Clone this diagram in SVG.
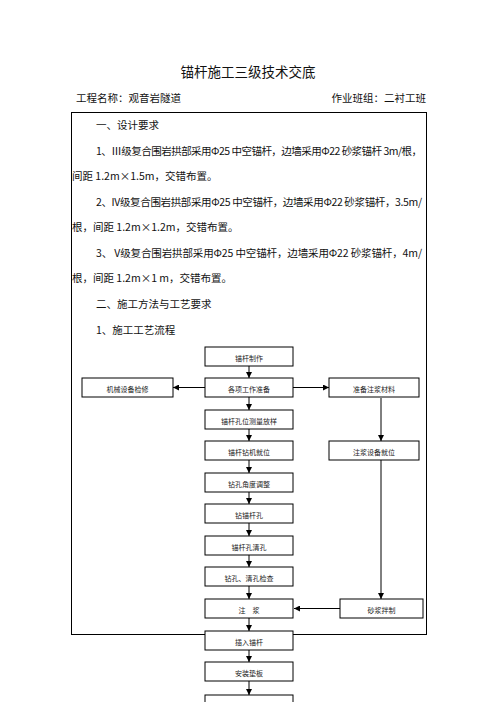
<svg xmlns="http://www.w3.org/2000/svg" width="496" height="702" viewBox="0 0 496 702">
<style>
text{font-family:"Noto Sans CJK SC","Noto Sans",sans-serif;fill:#111}
.t{font-size:13.5px}
.h{font-size:10.5px}
.b{font-size:10.5px}
.box{fill:#fff;stroke:#000;stroke-width:1}
.n{font-size:7px;text-anchor:middle;fill:#222}
.c{stroke:#000;stroke-width:1;fill:none}
</style>
<defs>
<marker id="ah" viewBox="0 0 6 6" refX="6" refY="3" markerWidth="6" markerHeight="6" orient="auto" markerUnits="userSpaceOnUse">
<path d="M0,0 L6,3 L0,6 z" fill="#000"/>
</marker>
</defs>
<rect width="496" height="702" fill="#fff"/>
<text class="t" x="248" y="77" text-anchor="middle">锚杆施工三级技术交底</text>
<text class="h" x="76" y="102">工程名称：观音岩隧道</text>
<text class="h" x="426" y="102" text-anchor="end">作业班组：二衬工班</text>
<rect x="71.5" y="112.5" width="355" height="522" fill="none" stroke="#000" stroke-width="1"/>
<g id="body">
<text class="b" x="96" y="129">一、设计要求</text>
<text class="b" x="96" y="155" textLength="326" lengthAdjust="spacing">1、Ⅲ级复合围岩拱部采用Φ25 中空锚杆，边墙采用Φ22 砂浆锚杆 3m/根，</text>
<text class="b" x="72" y="180">间距 1.2m×1.5m，交错布置。</text>
<text class="b" x="96" y="206" textLength="326" lengthAdjust="spacing">2、IV级复合围岩拱部采用Φ25 中空锚杆，边墙采用Φ22 砂浆锚杆，3.5m/</text>
<text class="b" x="72" y="231">根，间距 1.2m×1.2m，交错布置。</text>
<text class="b" x="96" y="257" textLength="326" lengthAdjust="spacing">3、 V级复合围岩拱部采用Φ25  中空锚杆，边墙采用Φ22  砂浆锚杆，4m/</text>
<text class="b" x="72" y="282">根，间距 1.2m×1 m，交错布置。</text>
<text class="b" x="96" y="308">二、施工方法与工艺要求</text>
<text class="b" x="96" y="334">1、施工工艺流程</text>
</g>
<g id="connectors">
<line class="c" x1="249" y1="366" x2="249" y2="378" marker-end="url(#ah)"/>
<line class="c" x1="249" y1="397" x2="249" y2="410" marker-end="url(#ah)"/>
<line class="c" x1="249" y1="429" x2="249" y2="441" marker-end="url(#ah)"/>
<line class="c" x1="249" y1="460" x2="249" y2="473" marker-end="url(#ah)"/>
<line class="c" x1="249" y1="492" x2="249" y2="504" marker-end="url(#ah)"/>
<line class="c" x1="249" y1="523" x2="249" y2="536" marker-end="url(#ah)"/>
<line class="c" x1="249" y1="555" x2="249" y2="567" marker-end="url(#ah)"/>
<line class="c" x1="249" y1="586" x2="249" y2="599" marker-end="url(#ah)"/>
<line class="c" x1="249" y1="618" x2="249" y2="631" marker-end="url(#ah)"/>
<line class="c" x1="249" y1="650" x2="249" y2="662" marker-end="url(#ah)"/>
<line class="c" x1="249" y1="681" x2="249" y2="695" marker-end="url(#ah)"/>
<line class="c" x1="205" y1="387.5" x2="173" y2="387.5" marker-end="url(#ah)"/>
<line class="c" x1="293" y1="387.5" x2="329" y2="387.5" marker-end="url(#ah)"/>
<line class="c" x1="381" y1="398" x2="381" y2="441" marker-end="url(#ah)"/>
<line class="c" x1="381" y1="460" x2="381" y2="599" marker-end="url(#ah)"/>
<line class="c" x1="340" y1="608.5" x2="294" y2="608.5" marker-end="url(#ah)"/>
</g>
<g id="n1"><rect class="box" x="205" y="347" width="88" height="19"/><text class="n" x="249" y="361">锚杆制作</text></g>
<g id="n2"><rect class="box" x="205" y="378" width="88" height="19"/><text class="n" x="249" y="392">各项工作准备</text></g>
<g id="n3"><rect class="box" x="205" y="410" width="88" height="19"/><text class="n" x="249" y="424">锚杆孔位测量放样</text></g>
<g id="n4"><rect class="box" x="205" y="441" width="88" height="19"/><text class="n" x="249" y="455">锚杆钻机就位</text></g>
<g id="n5"><rect class="box" x="205" y="473" width="88" height="19"/><text class="n" x="249" y="487">钻孔角度调整</text></g>
<g id="n6"><rect class="box" x="205" y="504" width="88" height="19"/><text class="n" x="249" y="518">钻锚杆孔</text></g>
<g id="n7"><rect class="box" x="205" y="536" width="88" height="19"/><text class="n" x="249" y="550">锚杆孔清孔</text></g>
<g id="n8"><rect class="box" x="205" y="567" width="88" height="19"/><text class="n" x="249" y="581">钻孔、清孔检查</text></g>
<g id="n9"><rect class="box" x="205" y="599" width="88" height="19"/><text class="n" x="249" y="613">注　浆</text></g>
<g id="n10"><rect class="box" x="205" y="631" width="88" height="19"/><text class="n" x="249" y="645">插入锚杆</text></g>
<g id="n11"><rect class="box" x="205" y="662" width="88" height="19"/><text class="n" x="249" y="676">安装垫板</text></g>
<g id="n12"><rect class="box" x="205" y="695" width="88" height="19"/></g>
<g id="nL"><rect class="box" x="82" y="378" width="91" height="19"/><text class="n" x="127.5" y="392">机械设备检修</text></g>
<g id="nR1"><rect class="box" x="329" y="378" width="90" height="19"/><text class="n" x="374" y="392">准备注浆材料</text></g>
<g id="nR2"><rect class="box" x="329" y="441" width="90" height="19"/><text class="n" x="374" y="455">注浆设备就位</text></g>
<g id="nR3"><rect class="box" x="340" y="599" width="83" height="19"/><text class="n" x="381.5" y="613">砂浆拌制</text></g>
</svg>
